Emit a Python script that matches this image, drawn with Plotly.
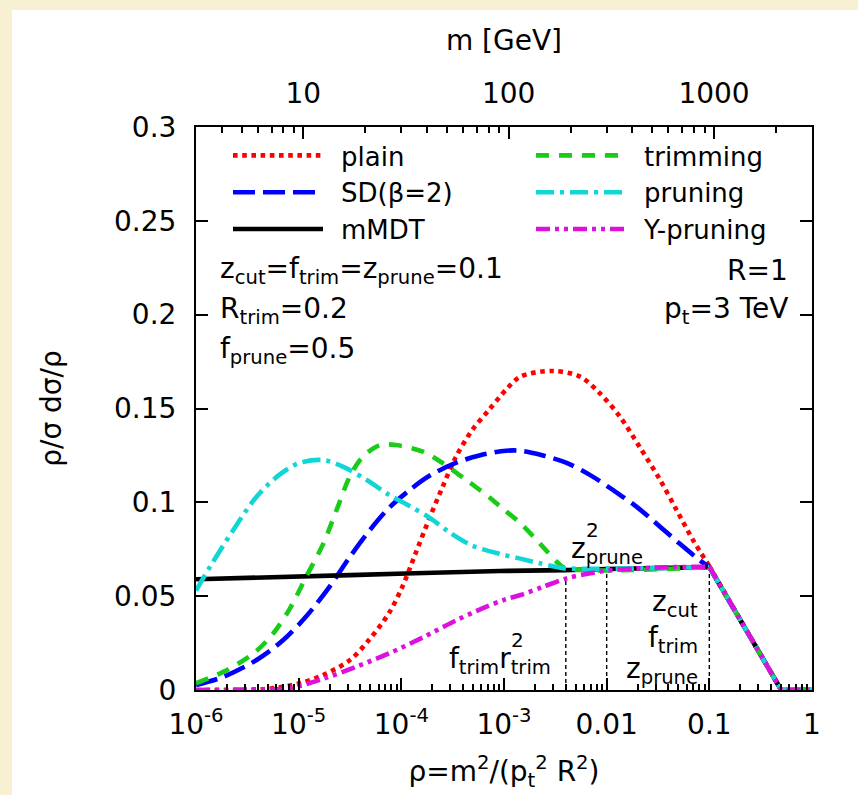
import numpy as np
import plotly.graph_objects as go

# ---------------- data ----------------
PT = 3000.0   # GeV
R = 1.0

# x positions are given as log10(rho); values are rho/sigma dsigma/drho
LOG_RHO_PLAIN = [-6.0, -5.3, -4.99, -4.76, -4.50, -4.31, -4.12, -3.99, -3.86, -3.73, -3.60, -3.47,
                 -3.31, -3.15, -2.98, -2.84, -2.53, -2.26, -2.065, -1.87, -1.68, -1.48, -1.32,
                 -1.16, -1.0, -0.3, 0.0]
PLAIN = [0.0, 0.0006, 0.0036, 0.008, 0.016, 0.027, 0.041, 0.055, 0.073, 0.091, 0.108, 0.124,
         0.1385, 0.149, 0.160, 0.167, 0.170, 0.167, 0.158, 0.1456, 0.1296, 0.112, 0.096,
         0.080, 0.066, 0.0, 0.0]

LOG_RHO_SD = [-6.0, -5.73, -5.41, -5.15, -4.93, -4.70, -4.50, -4.31, -4.12, -3.92, -3.73, -3.47,
              -3.24, -2.98, -2.84, -2.62, -2.39, -2.16, -1.94, -1.71, -1.48, -1.29, -1.09,
              -1.0, -0.3, 0.0]
SD = [0.0027, 0.0071, 0.016, 0.0266, 0.039, 0.055, 0.071, 0.085, 0.097, 0.1065, 0.114, 0.121,
      0.125, 0.1275, 0.1275, 0.125, 0.121, 0.1145, 0.1066, 0.0977, 0.087, 0.078, 0.069,
      0.0655, 0.0, 0.0]

LOG_RHO_MMDT = [-6.0, -4.5, -3.04, -2.40, -2.0, -1.0, -0.3, 0.0]
MMDT = [0.059, 0.0612, 0.0634, 0.0639, 0.0645, 0.0655, 0.0, 0.0]

LOG_RHO_TRIM = [-6.0, -5.73, -5.44, -5.25, -5.09, -4.93, -4.76, -4.63, -4.50, -4.38, -4.21, -4.05,
                -3.79, -3.60, -3.37, -3.15, -3.02, -2.84, -2.65, -2.47, -2.40, -1.0, -0.3, 0.0]
TRIM = [0.0036, 0.0098, 0.0195, 0.030, 0.043, 0.060, 0.078, 0.096, 0.114, 0.124, 0.1305, 0.1305,
        0.127, 0.121, 0.112, 0.103, 0.097, 0.0888, 0.078, 0.0675, 0.0648, 0.0655, 0.0, 0.0]

LOG_RHO_PRUNE = [-6.0, -5.86, -5.64, -5.41, -5.18, -4.99, -4.76, -4.57, -4.34, -4.12, -3.92, -3.73,
                 -3.53, -3.31, -3.04, -2.84, -2.65, -2.47, -2.40, -1.0, -0.3, 0.0]
PRUNE = [0.053, 0.066, 0.085, 0.103, 0.115, 0.121, 0.1225, 0.119, 0.112, 0.104, 0.098, 0.092,
         0.084, 0.077, 0.0725, 0.070, 0.0675, 0.0654, 0.0648, 0.0655, 0.0, 0.0]

LOG_RHO_YPRUNE = [-6.0, -5.5, -5.09, -4.76, -4.44, -4.12, -3.79, -3.47, -3.21, -3.0, -2.84, -2.62,
                  -2.39, -2.16, -2.0, -1.74, -1.41, -1.0, -0.3, 0.0]
YPRUNE = [0.0, 0.0003, 0.001, 0.006, 0.0124, 0.0195, 0.028, 0.037, 0.0435, 0.048, 0.0506, 0.055,
          0.0595, 0.0622, 0.0636, 0.0647, 0.0654, 0.0657, 0.0, 0.0]

# vertical marker lines: f_trim r_trim^2, z_prune^2, z_cut
F_TRIM, R_TRIM, Z_PRUNE, Z_CUT = 0.1, 0.2, 0.1, 0.1
MARK_RHO = [F_TRIM * R_TRIM**2, Z_PRUNE**2, Z_CUT]
MARK_TOP = [0.060, 0.062, 0.063]

# axis ticks
X_TICKS = [1e-6, 1e-5, 1e-4, 1e-3, 1e-2, 1e-1, 1.0]
X_TICKTEXT = ["10<sup>-6</sup>", "10<sup>-5</sup>", "10<sup>-4</sup>", "10<sup>-3</sup>",
              "0.01", "0.1", "1"]
Y_TICKS = [0, 0.05, 0.1, 0.15, 0.2, 0.25, 0.3]
Y_TICKTEXT = ["0", "0.05", "0.1", "0.15", "0.2", "0.25", "0.3"]
M_MAJOR = [10, 100, 1000]
M_MINOR = [3, 4, 5, 6, 7, 8, 9, 20, 30, 40, 50, 60, 70, 80, 90,
           200, 300, 400, 500, 600, 700, 800, 900, 2000, 3000]

# ---------------- figure ----------------
FONT = "DejaVu Sans"
FS = 28
BEIGE = "#f8f0d3"
KNEE = -1.0   # log10(z_cut): smooth part ends, straight tail begins
GAP = "\u2002"  # spacing between legend sample and its label

series = [
    # name, logx, y, color, dash, legendrank
    ("plain", LOG_RHO_PLAIN, PLAIN, "#ff0000", "dot", 1),
    ("SD(β=2)", LOG_RHO_SD, SD, "#0000ff", "22px,8px", 3),
    ("mMDT", LOG_RHO_MMDT, MMDT, "#000000", "solid", 5),
    ("trimming", LOG_RHO_TRIM, TRIM, "#18cc18", "13px,10px", 2),
    ("pruning", LOG_RHO_PRUNE, PRUNE, "#10d6d6", "18px,6px,4px,6px", 4),
    ("Y-pruning", LOG_RHO_YPRUNE, YPRUNE, "#dd10dd", "14px,5px,4px,5px,4px,5px", 6),
]

fig = go.Figure()

# vertical dashed marker lines
for xr, yt in zip(MARK_RHO, MARK_TOP):
    fig.add_trace(go.Scatter(x=[xr, xr], y=[0, yt], mode="lines",
                             line=dict(color="black", width=1.4, dash="4px,3px"),
                             showlegend=False, hoverinfo="skip"))

for name, lx, yv, col, dash, rank in series:
    lx = np.array(lx)
    yv = np.array(yv)
    body = lx <= KNEE
    tail = lx >= KNEE
    fig.add_trace(go.Scatter(x=10.0**lx[body], y=yv[body], mode="lines", name=GAP + name,
                             line=dict(color=col, width=4.6, dash=dash, shape="spline",
                                       smoothing=0.9),
                             legendgroup=name, legendrank=rank))
    fig.add_trace(go.Scatter(x=10.0**lx[tail], y=yv[tail], mode="lines", name=name,
                             line=dict(color=col, width=4.6, dash=dash),
                             legendgroup=name, showlegend=False))

# invisible trace to carry the top (mass) axis
fig.add_trace(go.Scatter(x=[], y=[], xaxis="x2", showlegend=False, hoverinfo="skip"))

def m_to_rho(m):
    return (m / (PT * R))**2

W, H = 858, 795
ML, MR, MT, MB = 196, 46, 127, 105
PW, PH = W - ML - MR, H - MT - MB

def px(xp):
    return (xp - ML) / PW

def py(yp):
    return (H - MB - yp) / PH

fig.update_layout(
    width=W, height=H,
    margin=dict(l=ML, r=MR, t=MT, b=MB, pad=0),
    paper_bgcolor=BEIGE, plot_bgcolor="white",
    font=dict(family=FONT, size=FS, color="black"),
    showlegend=True,
    legend=dict(orientation="h", x=px(228), y=py(132), xanchor="left", yanchor="top",
                entrywidth=198, entrywidthmode="pixels", itemwidth=90,
                bgcolor="rgba(0,0,0,0)", font=dict(family=FONT, size=26),
                traceorder="normal"),
    xaxis=dict(type="log", range=[-6, 0], tickvals=X_TICKS, ticktext=X_TICKTEXT,
               ticks="inside", ticklen=12, tickwidth=1.5, tickcolor="black",
               showline=True, linewidth=2, linecolor="black", mirror=True,
               showgrid=False, zeroline=False, ticklabelstandoff=8,
               minor=dict(tickvals=[k * 10.0**e for e in range(-6, 0) for k in range(2, 10)],
                          ticks="inside", ticklen=6, tickwidth=1.5, tickcolor="black",
                          showgrid=False),
               tickfont=dict(size=FS),
               title=dict(text="ρ=m<sup>2</sup>/(p<sub>t</sub><sup>2</sup> R<sup>2</sup>)",
                          font=dict(size=FS), standoff=22)),
    xaxis2=dict(type="log", range=[-6, 0], overlaying="x", side="top", anchor="y",
                tickvals=[m_to_rho(m) for m in M_MAJOR], ticktext=[str(m) for m in M_MAJOR],
                ticks="inside", ticklen=12, tickwidth=1.5, tickcolor="black",
                minor=dict(tickvals=[m_to_rho(m) for m in M_MINOR], ticks="inside",
                           ticklen=6, tickwidth=1.5, tickcolor="black", showgrid=False),
                showline=False, showgrid=False, zeroline=False, ticklabelstandoff=17,
                tickfont=dict(size=FS),
                title=dict(text="m [GeV]", font=dict(size=FS), standoff=18)),
    yaxis=dict(range=[0, 0.3], tickvals=Y_TICKS, ticktext=Y_TICKTEXT,
               ticks="inside", ticklen=12, tickwidth=1.5, tickcolor="black",
               showline=True, linewidth=2, linecolor="black", mirror="ticks",
               showgrid=False, zeroline=False, tickfont=dict(size=FS),
               ticklabelstandoff=12,
               title=dict(text="ρ/σ dσ/ρ", font=dict(size=FS), standoff=44)),
)

# white panel behind the chart
fig.add_shape(type="rect", xref="paper", yref="paper",
              x0=px(12), x1=px(W + 20), y0=py(H + 20), y1=py(10),
              fillcolor="white", line=dict(width=0), layer="below")

ann = dict(showarrow=False, font=dict(family=FONT, size=FS, color="black"))
texts_left = [
    ("z<sub>cut</sub>=f<sub>trim</sub>=z<sub>prune</sub>=0.1", 270),
    ("R<sub>trim</sub>=0.2", 310),
    ("f<sub>prune</sub>=0.5", 350),
]
for t, yp in texts_left:
    fig.add_annotation(text=t, xref="paper", yref="paper", x=px(218), y=py(yp),
                       xanchor="left", yanchor="middle", **ann)
texts_right = [("R=1", 270), ("p<sub>t</sub>=3 TeV", 310)]
for t, yp in texts_right:
    fig.add_annotation(text=t, xref="paper", yref="paper", x=px(790), y=py(yp),
                       xanchor="right", yanchor="middle", **ann)

# labels of the transition points (superscript 2 stacked above the subscript)
sup = dict(showarrow=False, font=dict(family=FONT, size=20, color="black"))
fig.add_annotation(text="z<sub>prune</sub>", xref="x", yref="y",
                   x=np.log10(Z_PRUNE**2), y=0.0745, xanchor="center", yanchor="middle", **ann)
fig.add_annotation(text="2", xref="x", yref="y", x=np.log10(Z_PRUNE**2), y=0.0855,
                   xanchor="center", yanchor="middle", xshift=-14, **sup)
fig.add_annotation(text="f<sub>trim</sub>r<sub>trim</sub>", xref="x", yref="y",
                   x=np.log10(F_TRIM * R_TRIM**2), y=0.0155, xanchor="right",
                   yanchor="middle", xshift=-13, **ann)
fig.add_annotation(text="2", xref="x", yref="y", x=np.log10(F_TRIM * R_TRIM**2), y=0.0265,
                   xanchor="center", yanchor="middle", xshift=-48, **sup)
for t, yv in [("z<sub>cut</sub>", 0.046), ("f<sub>trim</sub>", 0.027), ("z<sub>prune</sub>", 0.0105)]:
    fig.add_annotation(text=t, xref="x", yref="y", x=np.log10(Z_CUT), y=yv,
                       xanchor="right", yanchor="middle", xshift=-9, **ann)

fig.write_html("out.html")
